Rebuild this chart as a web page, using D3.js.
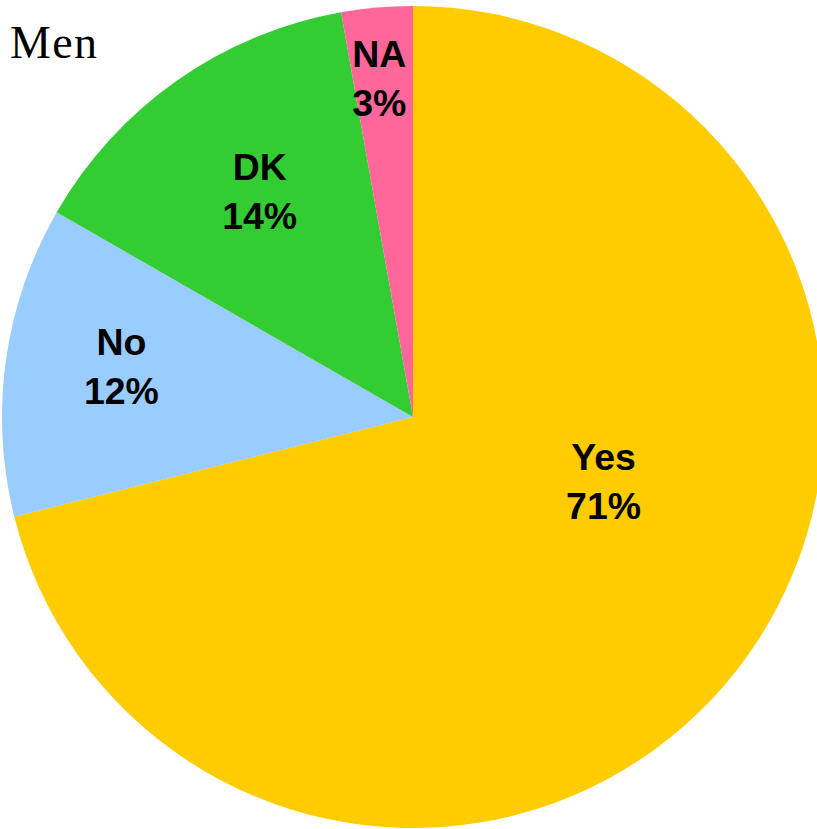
<!DOCTYPE html>
<html>
<head>
<meta charset="utf-8">
<script src="https://d3js.org/d3.v7.min.js"></script>
<style>
  body { margin: 0; background: #fff; }
  svg { display: block; }
</style>
</head>
<body>
<script>
// slice data, clockwise from 12 o'clock
var categories = ["Yes", "No", "DK", "NA"];
var shares = [71.1, 12.2, 13.9, 2.8];
var percentLabels = ["71%", "12%", "14%", "3%"];
var colors = ["#FFCC00", "#99CCFF", "#33CC33", "#FF6699"];

// where each label sits: angle (deg, clockwise from top) and fraction of radius
var labelPlace = [[108.9, 0.49], [279.8, 0.72], [325.7, 0.662], [354.3, 0.827]];

var W = 817, H = 829,
    cx = 413, cy = 417, R = 411;

var svg = d3.select("body").append("svg")
  .attr("width", W).attr("height", H);

var pie = d3.pie().sort(null).value(function (d) { return d; });
var arc = d3.arc().innerRadius(0).outerRadius(R);

var g = svg.append("g").attr("transform", "translate(" + cx + "," + cy + ")");

g.selectAll("path")
  .data(pie(shares))
  .enter().append("path")
    .attr("d", arc)
    .attr("fill", function (d, i) { return colors[i]; });

var lbl = g.selectAll("text.lbl")
  .data(categories)
  .enter().append("text")
    .attr("class", "lbl")
    .attr("text-anchor", "middle")
    .style("font-family", "'Liberation Sans', Arial, sans-serif")
    .style("font-weight", "bold")
    .style("font-size", "36px")
    .attr("transform", function (d, i) {
      var a = labelPlace[i][0] * Math.PI / 180, r = labelPlace[i][1] * R;
      return "translate(" + (Math.sin(a) * r) + "," + (-Math.cos(a) * r) + ") scale(1.04,1)";
    });

lbl.append("tspan").attr("x", 0).attr("y", -12).text(function (d) { return d; });
lbl.append("tspan").attr("x", 0).attr("y", 37).text(function (d, i) { return percentLabels[i]; });

svg.append("text")
  .attr("x", 10).attr("y", 58)
  .style("font-family", "'Liberation Serif', 'Times New Roman', serif")
  .style("font-size", "46px")
  .attr("textLength", 87)
  .text("Men");
</script>
</body>
</html>
